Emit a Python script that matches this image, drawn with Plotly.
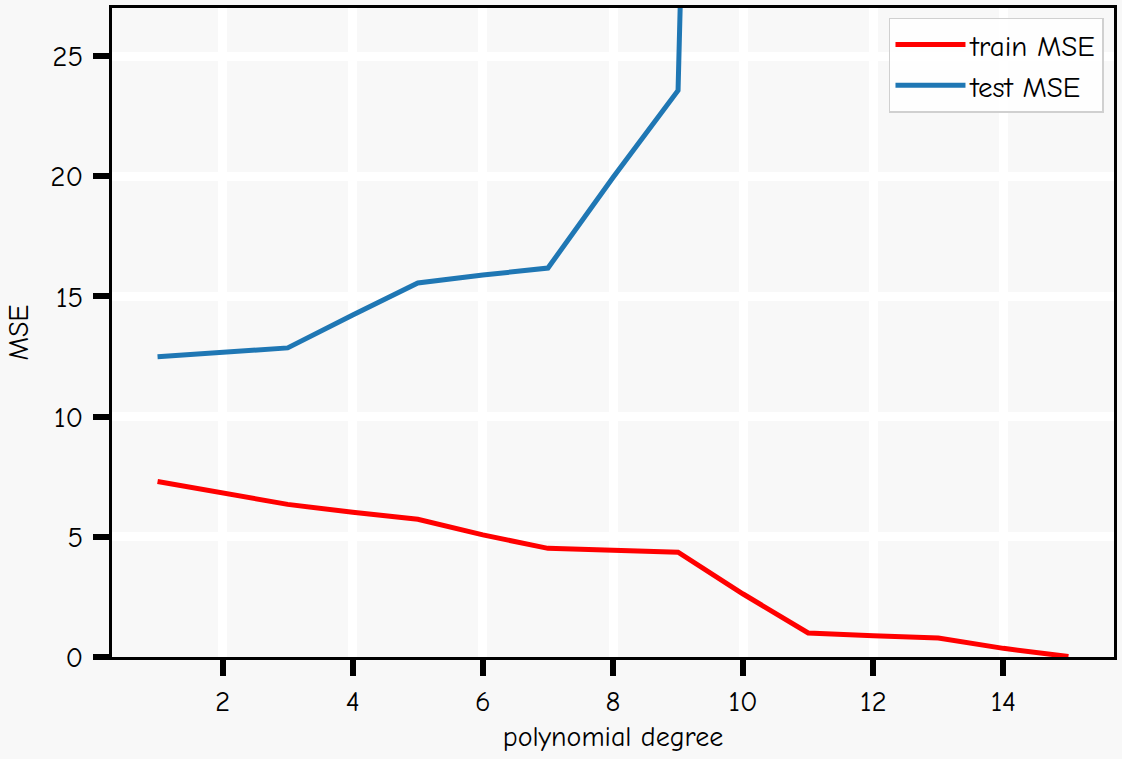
import plotly.graph_objects as go

# polynomial degree vs. mean squared error
degrees = list(range(1, 16))
train_mse = [7.30, 6.85, 6.35, 6.02, 5.73, 5.08, 4.52, 4.44, 4.36, 2.62, 1.00, 0.88, 0.79, 0.36, 0.02]
test_mse = [12.49, 12.70, 12.86, 14.23, 15.56, 15.89, 16.18, 19.95, 23.57, 130.0, 410.0, 900.0, 1500.0, 2400.0, 3600.0]

x_ticks = [2, 4, 6, 8, 10, 12, 14]
y_ticks = [0, 5, 10, 15, 20, 25]

FONT = "Comic Neue, Comic Sans MS, Humor Sans, Lato, sans-serif"
BG = "#f8f8f8"

fig = go.Figure()
fig.add_trace(go.Scatter(
    x=degrees, y=train_mse, mode="lines", name="train MSE",
    line=dict(color="#ff0000", width=5),
))
fig.add_trace(go.Scatter(
    x=degrees, y=test_mse, mode="lines", name="test MSE",
    line=dict(color="#1f77b4", width=5),
))

axis_common = dict(
    showline=True, linecolor="black", linewidth=3, mirror=True,
    showgrid=True, gridcolor="white", gridwidth=9,
    zeroline=False,
    ticks="outside", ticklen=16, tickwidth=6, tickcolor="black",
    tickfont=dict(family=FONT, size=29, color="black"),
)

fig.update_layout(
    width=1122, height=759,
    margin=dict(l=112, r=5, t=5, b=102),
    paper_bgcolor=BG, plot_bgcolor=BG,
    font=dict(family=FONT, size=28, color="black"),
    xaxis=dict(
        range=[0.3, 15.7], tickvals=x_ticks, ticklabelstandoff=0,
        title=dict(text="polynomial degree", font=dict(family=FONT, size=28), standoff=10),
        **axis_common,
    ),
    yaxis=dict(
        range=[0, 27], tickvals=y_ticks, ticklabelstandoff=4,
        title=dict(text="MSE", font=dict(family=FONT, size=28), standoff=14),
        **axis_common,
    ),
    legend=dict(
        x=0.99, y=0.985, xanchor="right", yanchor="top",
        bgcolor="rgba(255,255,255,0.85)", bordercolor="#d0d0d0", borderwidth=1.5,
        font=dict(family=FONT, size=29, color="black"),
        itemwidth=70, tracegroupgap=6,
    ),
)

fig.write_html("out.html")
